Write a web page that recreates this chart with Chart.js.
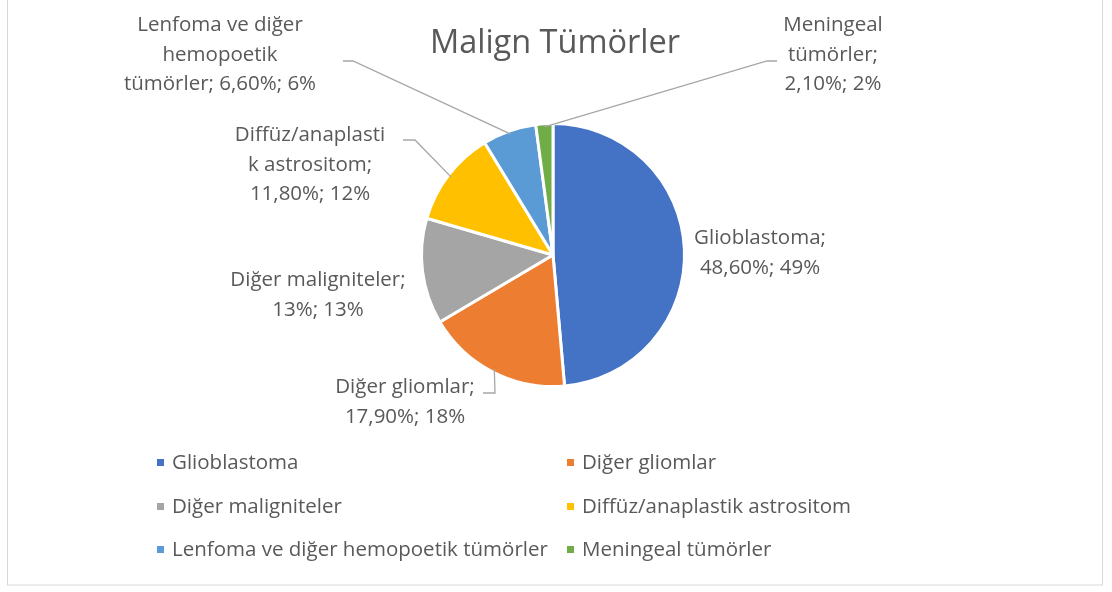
<!DOCTYPE html>
<html>
<head>
<meta charset="utf-8">
<script src="https://cdn.jsdelivr.net/npm/chart.js@4"></script>
<style>
  html, body { margin: 0; padding: 0; background: #fff; }
  #wrap { width: 1112px; height: 592px; position: relative; }
</style>
</head>
<body>
<div id="wrap"><canvas id="grafico"></canvas></div>
<script>
// data
const categorias = ['Glioblastoma', 'Diğer gliomlar', 'Diğer maligniteler', 'Diffüz/anaplastik astrositom', 'Lenfoma ve diğer hemopoetik tümörler', 'Meningeal tümörler'];
const valores = [48.6, 17.9, 13, 11.8, 6.6, 2.1];
const valorTexto = ['48,60%', '17,90%', '13%', '11,80%', '6,60%', '2,10%'];
const yuzdeTexto = ['49%', '18%', '13%', '12%', '6%', '2%'];
const cores = ['#4472C4', '#ED7D31', '#A5A5A5', '#FFC000', '#5B9BD5', '#70AD47'];

// label lines, wrapped like the original
const etiquetas = [
    ['Glioblastoma;', valorTexto[0] + '; ' + yuzdeTexto[0]],
    ['Diğer gliomlar;', valorTexto[1] + '; ' + yuzdeTexto[1]],
    ['Diğer maligniteler;', valorTexto[2] + '; ' + yuzdeTexto[2]],
    ['Diffüz/anaplasti', 'k astrositom;', valorTexto[3] + '; ' + yuzdeTexto[3]],
    ['Lenfoma ve diğer', 'hemopoetik', 'tümörler; ' + valorTexto[4] + '; ' + yuzdeTexto[4]],
    ['Meningeal', 'tümörler;', valorTexto[5] + '; ' + yuzdeTexto[5]]
];

// label layout relative to pie center (dx, dy) and leader elbows
const posEtiqueta = [[207, -2], [-148, 147], [-235, 40], [-243, -90], [-333, -200], [280, -200]];
const guia = [null, [[-70, 138], [-58, 138]], null, [[-150, -115], [-138, -115]], [[-210, -194], [-200, -194]], [[224, -194], [214, -194]]];

const FONTE = '"Open Sans", "Noto Sans", sans-serif';
const COR_TEXTO = '#595959';

const extras = {
    id: 'extras',
    beforeDraw(chart) {
        const ctx = chart.ctx;
        ctx.save();
        ctx.fillStyle = '#fff';
        ctx.fillRect(0, 0, chart.width, chart.height);
        ctx.strokeStyle = '#D9D9D9';
        ctx.lineWidth = 1;
        ctx.strokeRect(7.5, -1, 1095, 586);
        ctx.restore();
    },
    afterDraw(chart) {
        const ctx = chart.ctx;
        const meta = chart.getDatasetMeta(0);
        const arc0 = meta.data[0];
        const cx = arc0.x, cy = arc0.y, r = arc0.outerRadius;

        ctx.save();
        // title
        ctx.fillStyle = COR_TEXTO;
        ctx.font = '32.5px ' + FONTE;
        ctx.textAlign = 'center';
        ctx.textBaseline = 'middle';
        ctx.fillText('Malign Tümörler', 555, 44);

        // leader lines
        ctx.strokeStyle = '#A6A6A6';
        ctx.lineWidth = 1.3;
        meta.data.forEach((arc, i) => {
            if (!guia[i]) return;
            const mid = (arc.startAngle + arc.endAngle) / 2;
            const ex = cx + Math.cos(mid) * (r - 3);
            const ey = cy + Math.sin(mid) * (r - 3);
            ctx.beginPath();
            ctx.moveTo(cx + guia[i][0][0], cy + guia[i][0][1]);
            ctx.lineTo(cx + guia[i][1][0], cy + guia[i][1][1]);
            ctx.lineTo(ex, ey);
            ctx.stroke();
        });

        // data labels
        ctx.font = '20.5px ' + FONTE;
        const alturaLinha = 29.5;
        etiquetas.forEach((linhas, i) => {
            const lx = cx + posEtiqueta[i][0];
            const ly = cy + posEtiqueta[i][1];
            const y0 = ly - (linhas.length - 1) * alturaLinha / 2;
            linhas.forEach((t, k) => ctx.fillText(t, lx, y0 + k * alturaLinha));
        });

        // legend, 2 columns
        ctx.textAlign = 'left';
        ctx.font = '20.5px ' + FONTE;
        const colX = [157, 567];
        const rowY = [463, 507, 550];
        categorias.forEach((c, i) => {
            const x = colX[i % 2];
            const y = rowY[Math.floor(i / 2)];
            ctx.fillStyle = cores[i];
            ctx.fillRect(x, y - 4, 7, 7);
            ctx.fillStyle = COR_TEXTO;
            ctx.fillText(c, x + 15, y);
        });
        ctx.restore();
    }
};

const ctx = document.getElementById('grafico').getContext('2d');
new Chart(ctx, {
    type: 'pie',
    data: {
        labels: categorias,
        datasets: [{
            data: valores,
            backgroundColor: cores,
            borderColor: '#ffffff',
            borderWidth: 3
        }]
    },
    options: {
        responsive: true,
        maintainAspectRatio: false,
        animation: false,
        layout: { padding: { left: 353, right: 359, top: 122, bottom: 204 } },
        plugins: {
            legend: { display: false },
            title: { display: false },
            tooltip: { enabled: false }
        }
    },
    plugins: [extras]
});
</script>
</body>
</html>
